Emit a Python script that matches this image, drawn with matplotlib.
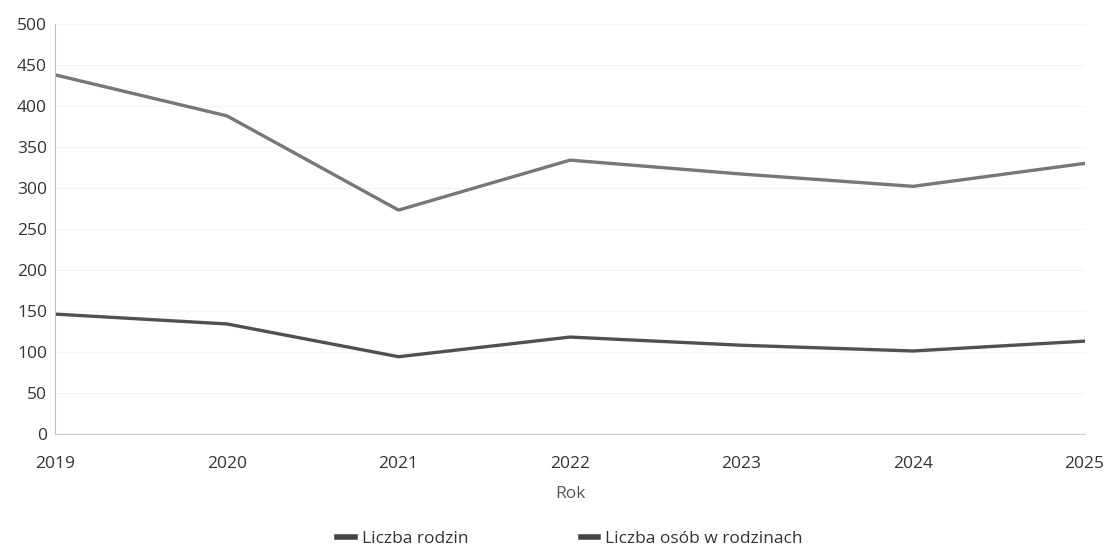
import matplotlib.pyplot as plt

# Dane
lata = [2019, 2020, 2021, 2022, 2023, 2024, 2025]
liczba_rodzin = [146, 134, 94, 118, 108, 101, 113]
liczba_osob = [438, 388, 273, 334, 317, 302, 330]

plt.rcParams['font.family'] = ['Open Sans', 'DejaVu Sans']

fig, ax = plt.subplots(figsize=(11.09, 5.49), dpi=100)
fig.subplots_adjust(left=0.05, right=0.978, top=0.956, bottom=0.21)

ax.plot(lata, liczba_rodzin, color='#505050', linewidth=2.4, label='Liczba rodzin')
ax.plot(lata, liczba_osob, color='#777777', linewidth=2.4, label='Liczba osób w rodzinach')

ax.set_xlim(2019, 2025)
ax.set_ylim(0, 500)
ax.set_yticks(range(0, 501, 50))
ax.set_xticks(lata)
ax.grid(axis='y', color='#f4f4f4', linewidth=0.8)
ax.set_axisbelow(True)

for s in ['top', 'right']:
    ax.spines[s].set_visible(False)
ax.spines['left'].set_color('#bbbbbb')
ax.spines['bottom'].set_color('#cccccc')
ax.tick_params(length=0, labelsize=12.5, colors='#333333')
ax.tick_params(axis='y', pad=6)
ax.tick_params(axis='x', pad=16)
ax.set_xlabel('Rok', fontsize=12.5, color='#555555', labelpad=10)

leg = ax.legend(loc='upper center', bbox_to_anchor=(0.5, -0.2), ncol=2, frameon=False,
                fontsize=12.5, handlelength=1.0, handletextpad=0.4, columnspacing=6.5)
for h in leg.get_lines():
    h.set_color('#444444')
    h.set_linewidth(4)
for t in leg.get_texts():
    t.set_color('#333333')

plt.savefig('out.png')
